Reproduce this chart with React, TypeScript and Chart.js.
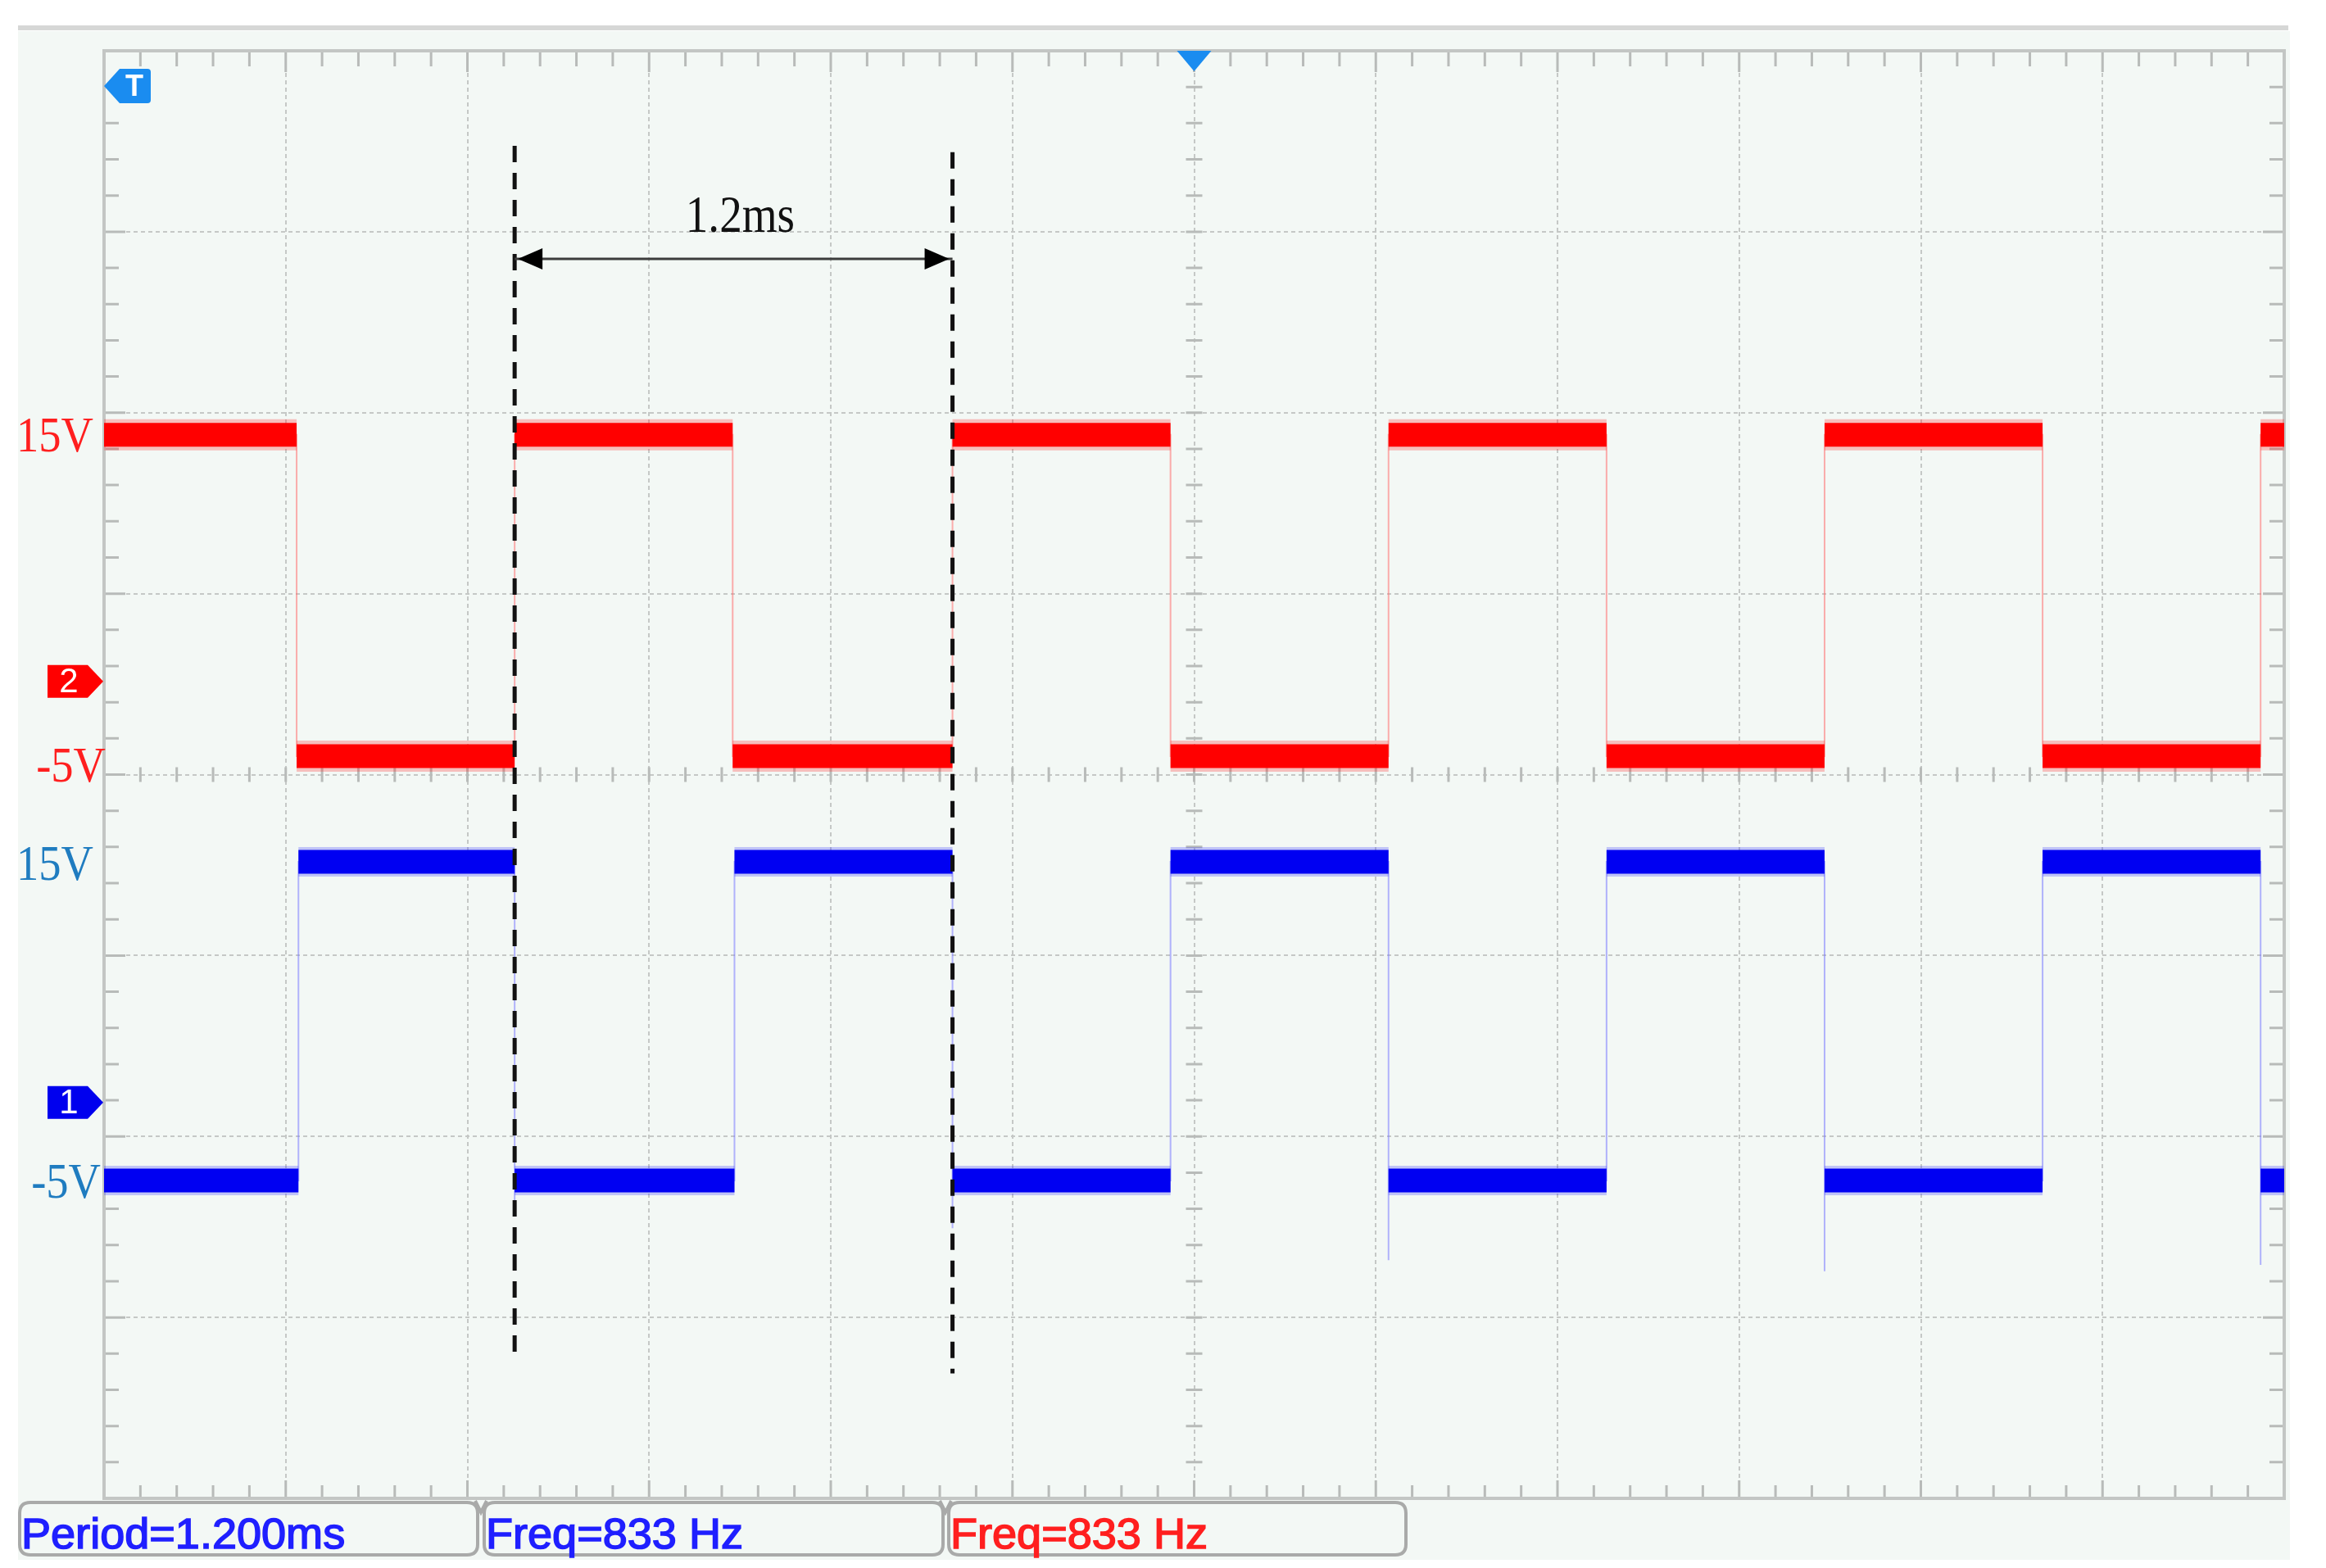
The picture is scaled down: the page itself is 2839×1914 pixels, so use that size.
import React, { useEffect, useRef } from 'react';
import { Chart, registerables } from 'chart.js';

Chart.register(...registerables);

// ---------------- data ----------------
// horizontal: 12 divisions x 0.5 ms
const timeMinMs = 0;
const timeMaxMs = 6;
const timeDivMs = 0.5;
const timeMinorMs = 0.1;
// vertical grid: 8 divisions
const gridDivMin = -4;
const gridDivMax = 4;
const gridMinorDiv = 0.2;

// CH2 (red): edge times and the level held between consecutive edges
const ch2EdgesMs = [0, 0.53, 1.13, 1.73, 2.335, 2.935, 3.535, 4.135, 4.735, 5.335, 5.935, 6.0];
const ch2LevelsV = [15, -5, 15, -5, 15, -5, 15, -5, 15, -5, 15];
// CH1 (blue)
const ch1EdgesMs = [0, 0.535, 1.13, 1.735, 2.335, 2.935, 3.535, 4.135, 4.735, 5.335, 5.935, 6.0];
const ch1LevelsV = [-5, 15, -5, 15, -5, 15, -5, 15, -5, 15, -5];
// CH1 negative spikes on falling edges
const ch1SpikeMs = [1.13, 2.335, 3.535, 4.735, 5.935];
const ch1SpikeV = [-7, -8, -10, -10.7, -10.3];

// channel vertical ranges (volts at bottom / top of screen)
const ch2RangeV = [-51.2, 38.9];
const ch1RangeV = [-24.95, 65.9];
const ch2MarkerV = -0.35;
const ch1MarkerV = -0.1;

// cursors
const cursorMs = [1.13, 2.335];
const cursorTopDiv = [3.475, 3.44];
const cursorBottomDiv = [-3.22, -3.31];
const arrowDiv = 2.85;
const deltaLabel = '1.2ms';

// channel level labels
const levelLabels = ['15V', '-5V'];
const levelValuesV = [15, -5];

// measurement readouts
const measureTexts = ['Period=1.200ms', 'Freq=833 Hz', 'Freq=833 Hz'];

// ---------------- helpers ----------------
type Pt = { x: number; y: number | null };

function bandPoints(edges: number[], levels: number[]): Pt[] {
  const pts: Pt[] = [];
  levels.forEach((v, i) => {
    pts.push({ x: edges[i], y: v }, { x: edges[i + 1], y: v }, { x: edges[i + 1], y: null });
  });
  return pts;
}

function tracePoints(edges: number[], levels: number[], spikeT: number[] = [], spikeV: number[] = []): Pt[] {
  const pts: Pt[] = [{ x: edges[0], y: levels[0] }];
  for (let i = 1; i < levels.length; i++) {
    const t = edges[i];
    pts.push({ x: t, y: levels[i - 1] });
    const k = spikeT.indexOf(t);
    if (k >= 0) pts.push({ x: t, y: spikeV[k] });
    pts.push({ x: t, y: levels[i] });
  }
  pts.push({ x: edges[edges.length - 1], y: levels[levels.length - 1] });
  return pts;
}

function drawStretched(ctx: CanvasRenderingContext2D, text: string, x: number, y: number, font: string, color: string, sx: number, align: CanvasTextAlign, strokeW = 0) {
  ctx.save();
  ctx.translate(x, y);
  ctx.scale(sx, 1);
  ctx.font = font;
  ctx.fillStyle = color;
  ctx.textAlign = align;
  ctx.textBaseline = 'alphabetic';
  ctx.fillText(text, 0, 0);
  if (strokeW > 0) {
    ctx.strokeStyle = color;
    ctx.lineWidth = strokeW;
    ctx.strokeText(text, 0, 0);
  }
  ctx.restore();
}

function roundRect(ctx: CanvasRenderingContext2D, x: number, y: number, w: number, h: number, r: number) {
  ctx.beginPath();
  ctx.moveTo(x + r, y);
  ctx.lineTo(x + w - r, y);
  ctx.quadraticCurveTo(x + w, y, x + w, y + r);
  ctx.lineTo(x + w, y + h - r);
  ctx.quadraticCurveTo(x + w, y + h, x + w - r, y + h);
  ctx.lineTo(x + r, y + h);
  ctx.quadraticCurveTo(x, y + h, x, y + h - r);
  ctx.lineTo(x, y + r);
  ctx.quadraticCurveTo(x, y, x + r, y);
  ctx.closePath();
}

const SCREEN_BG = '#f3f8f5';
const FRAME = '#c3c6c4';
const TICK = '#b8bbb9';

const scopePlugin = {
  id: 'scope',
  beforeDraw(chart: any) {
    const ctx: CanvasRenderingContext2D = chart.ctx;
    ctx.save();
    ctx.fillStyle = '#ffffff';
    ctx.fillRect(0, 0, chart.width, chart.height);
    ctx.fillStyle = SCREEN_BG;
    ctx.fillRect(22, 38, 2773, 1866);
    ctx.fillStyle = '#d6d7d6';
    ctx.fillRect(22, 31, 2771, 6);
    ctx.restore();
  },
  beforeDatasetsDraw(chart: any) {
    const ctx: CanvasRenderingContext2D = chart.ctx;
    const { left, right, top, bottom } = chart.chartArea;
    const xs = chart.scales.x;
    const ys = chart.scales.yg;
    ctx.save();
    ctx.strokeStyle = TICK;
    ctx.lineWidth = 3;
    const nx = Math.round((timeMaxMs - timeMinMs) / timeMinorMs);
    const cy = ys.getPixelForValue(0);
    const cx = xs.getPixelForValue((timeMinMs + timeMaxMs) / 2);
    ctx.beginPath();
    for (let i = 1; i < nx; i++) {
      const t = timeMinMs + i * timeMinorMs;
      const px = xs.getPixelForValue(t);
      const major = i % Math.round(timeDivMs / timeMinorMs) === 0;
      ctx.moveTo(px, top);
      ctx.lineTo(px, top + (major ? 26 : 19));
      ctx.moveTo(px, bottom);
      ctx.lineTo(px, bottom - (major ? 22 : 16));
      ctx.moveTo(px, cy - 9);
      ctx.lineTo(px, cy + 9);
    }
    const ny = Math.round((gridDivMax - gridDivMin) / gridMinorDiv);
    for (let i = 1; i < ny; i++) {
      const v = gridDivMin + i * gridMinorDiv;
      const py = ys.getPixelForValue(v);
      const major = i % Math.round(1 / gridMinorDiv) === 0;
      ctx.moveTo(left, py);
      ctx.lineTo(left + (major ? 26 : 18), py);
      ctx.moveTo(right, py);
      ctx.lineTo(right - (major ? 26 : 18), py);
      ctx.moveTo(cx - 10, py);
      ctx.lineTo(cx + 10, py);
    }
    ctx.stroke();
    ctx.strokeStyle = FRAME;
    ctx.lineWidth = 4;
    ctx.strokeRect(left, top, right - left, bottom - top);
    ctx.restore();
  },
  afterDatasetsDraw(chart: any) {
    const ctx: CanvasRenderingContext2D = chart.ctx;
    const { left, top } = chart.chartArea;
    const xs = chart.scales.x;
    const ys = chart.scales.yg;
    const y1 = chart.scales.y1;
    const y2 = chart.scales.y2;
    ctx.save();
    const ay = ys.getPixelForValue(arrowDiv);
    const ax0 = xs.getPixelForValue(cursorMs[0]) + 4;
    const ax1 = xs.getPixelForValue(cursorMs[1]) - 4;
    ctx.fillStyle = '#000000';
    ctx.beginPath();
    ctx.moveTo(ax0, ay);
    ctx.lineTo(ax0 + 30, ay - 13);
    ctx.lineTo(ax0 + 30, ay + 13);
    ctx.closePath();
    ctx.fill();
    ctx.beginPath();
    ctx.moveTo(ax1, ay);
    ctx.lineTo(ax1 - 30, ay - 13);
    ctx.lineTo(ax1 - 30, ay + 13);
    ctx.closePath();
    ctx.fill();
    const mid = (ax0 + ax1) / 2 + 8;
    drawStretched(ctx, deltaLabel, mid, ay - 33, '64px "Liberation Serif", "Times New Roman", serif', '#111111', 0.86, 'center');

    // trigger marker "T"
    ctx.fillStyle = '#1a8cf0';
    ctx.beginPath();
    ctx.moveTo(left, 105);
    ctx.lineTo(left + 19, 84);
    ctx.lineTo(left + 53, 84);
    ctx.quadraticCurveTo(left + 57, 84, left + 57, 88);
    ctx.lineTo(left + 57, 122);
    ctx.quadraticCurveTo(left + 57, 126, left + 53, 126);
    ctx.lineTo(left + 19, 126);
    ctx.closePath();
    ctx.fill();
    ctx.fillStyle = '#ffffff';
    ctx.font = 'bold 36px "Liberation Sans", Arial, sans-serif';
    ctx.textAlign = 'center';
    ctx.textBaseline = 'middle';
    ctx.fillText('T', left + 37, 107);

    // trigger position (top, centre)
    const tx = xs.getPixelForValue((timeMinMs + timeMaxMs) / 2);
    ctx.fillStyle = '#1a8cf0';
    ctx.beginPath();
    ctx.moveTo(tx - 21, top);
    ctx.lineTo(tx + 21, top);
    ctx.lineTo(tx, top + 25);
    ctx.closePath();
    ctx.fill();

    // channel ground markers
    const marker = (py: number, color: string, label: string) => {
      ctx.fillStyle = color;
      ctx.beginPath();
      ctx.moveTo(58, py - 20);
      ctx.lineTo(107, py - 20);
      ctx.lineTo(126, py);
      ctx.lineTo(107, py + 20);
      ctx.lineTo(58, py + 20);
      ctx.closePath();
      ctx.fill();
      ctx.fillStyle = '#ffffff';
      ctx.font = '42px "Liberation Sans", Arial, sans-serif';
      ctx.textAlign = 'center';
      ctx.textBaseline = 'middle';
      ctx.fillText(label, 84, py + 2);
    };
    marker(y2.getPixelForValue(ch2MarkerV), '#ff0000', '2');
    marker(y1.getPixelForValue(ch1MarkerV), '#0000ee', '1');

    // level labels
    const serif = '62px "Liberation Serif", "Times New Roman", serif';
    const red = '#ff1f1f';
    const blue = '#1f7cc0';
    const rightEdges = [114, 129];
    const rightEdgesBlue = [114, 123];
    const dyRed = [20, 31];
    const dyBlue = [22, 21];
    levelLabels.forEach((lab, i) => {
      drawStretched(ctx, lab, rightEdges[i], y2.getPixelForValue(levelValuesV[i]) + dyRed[i], serif, red, 0.88, 'right');
      drawStretched(ctx, lab, rightEdgesBlue[i], y1.getPixelForValue(levelValuesV[i]) + dyBlue[i], serif, blue, 0.88, 'right');
    });
    ctx.restore();
  },
  afterDraw(chart: any) {
    const ctx: CanvasRenderingContext2D = chart.ctx;
    ctx.save();
    const boxes = [
      [24, 583],
      [591, 1151],
      [1158, 1716],
    ];
    const colors = ['#1f1fff', '#1f1fff', '#ff1f1f'];
    ctx.strokeStyle = '#a9aaa9';
    ctx.lineWidth = 4;
    boxes.forEach(([x0, x1], i) => {
      roundRect(ctx, x0, 1834, x1 - x0, 64, 13);
      ctx.stroke();
      drawStretched(ctx, measureTexts[i], x0 + 2, 1890, '51px "Liberation Sans", Arial, sans-serif', colors[i], 1.06, 'left', 1.5);
    });
    ctx.strokeStyle = '#a9aaa9';
    ctx.lineWidth = 4;
    ctx.beginPath();
    [587, 1154].forEach((x) => {
      ctx.moveTo(x - 7, 1832);
      ctx.lineTo(x, 1846);
      ctx.lineTo(x + 7, 1832);
    });
    ctx.stroke();
    ctx.restore();
  },
};

export default function App() {
  const ref = useRef<HTMLCanvasElement>(null);
  useEffect(() => {
    if (!ref.current) return;
    const grid = { color: '#c5c8c6', lineWidth: 2, drawTicks: false };
    const band = (label: string, data: Pt[], axis: string, color: string, width: number, order: number) => ({
      label,
      data,
      yAxisID: axis,
      borderColor: color,
      borderWidth: width,
      borderCapStyle: 'butt',
      pointRadius: 0,
      spanGaps: false,
      order,
    });
    const chart = new Chart(ref.current, {
      type: 'line',
      data: {
        datasets: [
          {
            label: 'CH2 edges',
            data: tracePoints(ch2EdgesMs, ch2LevelsV),
            yAxisID: 'y2',
            borderColor: 'rgba(255,110,110,0.55)',
            borderWidth: 2,
            pointRadius: 0,
            order: 7,
          },
          {
            label: 'CH1 edges',
            data: tracePoints(ch1EdgesMs, ch1LevelsV, ch1SpikeMs, ch1SpikeV),
            yAxisID: 'y1',
            borderColor: 'rgba(120,120,255,0.55)',
            borderWidth: 2,
            pointRadius: 0,
            order: 7,
          },
          band('CH2 noise', bandPoints(ch2EdgesMs, ch2LevelsV), 'y2', 'rgba(255,40,40,0.28)', 38, 6),
          band('CH1 noise', bandPoints(ch1EdgesMs, ch1LevelsV), 'y1', 'rgba(40,40,255,0.25)', 36, 6),
          band('CH2', bandPoints(ch2EdgesMs, ch2LevelsV), 'y2', '#ff0000', 29, 5),
          band('CH1', bandPoints(ch1EdgesMs, ch1LevelsV), 'y1', '#0000f2', 29, 5),
          ...cursorMs.map((t, i) => ({
            label: 'cursor ' + (i + 1),
            data: [
              { x: t, y: cursorTopDiv[i] },
              { x: t, y: cursorBottomDiv[i] },
            ],
            yAxisID: 'yg',
            borderColor: '#111111',
            borderWidth: 5,
            borderDash: [20, 13],
            pointRadius: 0,
            order: 2,
          })),
          {
            label: 'delta',
            data: [
              { x: cursorMs[0], y: arrowDiv },
              { x: cursorMs[1], y: arrowDiv },
            ],
            yAxisID: 'yg',
            borderColor: '#3c3c3c',
            borderWidth: 3,
            pointRadius: 0,
            order: 1,
          },
        ],
      },
      options: {
        animation: false,
        responsive: false,
        devicePixelRatio: 1,
        events: [],
        layout: { padding: { left: 127, right: 51, top: 62, bottom: 85 } },
        plugins: { legend: { display: false }, tooltip: { enabled: false } },
        elements: { line: { tension: 0, fill: false } },
        scales: {
          x: {
            type: 'linear',
            min: timeMinMs,
            max: timeMaxMs,
            ticks: { display: false, stepSize: timeDivMs },
            grid,
            border: { display: false, dash: [5, 4] },
          },
          yg: {
            type: 'linear',
            position: 'left',
            min: gridDivMin,
            max: gridDivMax,
            ticks: { display: false, stepSize: 1 },
            grid,
            border: { display: false, dash: [5, 4] },
          },
          y2: { type: 'linear', display: false, min: ch2RangeV[0], max: ch2RangeV[1] },
          y1: { type: 'linear', display: false, min: ch1RangeV[0], max: ch1RangeV[1] },
        },
      },
      plugins: [scopePlugin],
    } as any);
    return () => chart.destroy();
  }, []);
  return (
    <div style={{ position: 'absolute', left: 0, top: 0, width: 2839, height: 1914, background: '#ffffff' }}>
      <canvas ref={ref} width={2839} height={1914} style={{ display: 'block', width: 2839, height: 1914 }} />
    </div>
  );
}
